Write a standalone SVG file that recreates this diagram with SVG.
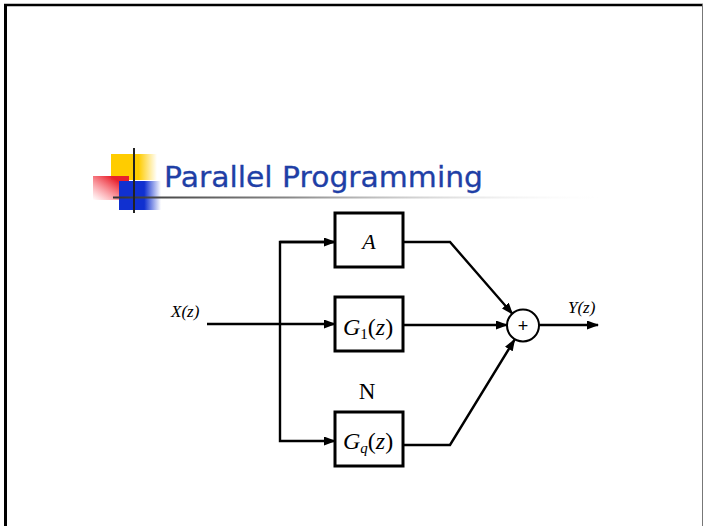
<svg xmlns="http://www.w3.org/2000/svg" width="703" height="526" viewBox="0 0 703 526">
  <defs>
    <style>
      .wire { fill: none; stroke: #000; stroke-width: 2.4; }
      .block { fill: #fff; stroke: #000; stroke-width: 3; }
      .math { font-family: "Liberation Serif", "Times New Roman", serif; fill: #000; }
      .title { font-family: "DejaVu Sans", Verdana, sans-serif; font-size: 28px; fill: #1f3fa6; stroke: #1f3fa6; stroke-width: 0.3; }
    </style>
    <marker id="arrow" viewBox="0 0 12 9" markerWidth="12" markerHeight="9" refX="11" refY="4.5" orient="auto" markerUnits="userSpaceOnUse">
      <path d="M0,0 L12,4.5 L0,9 z" fill="#000"/>
    </marker>
    <linearGradient id="yellowFade" x1="0" y1="0" x2="1" y2="0">
      <stop offset="0" stop-color="#ffcc00"/>
      <stop offset="0.6" stop-color="#ffcc00"/>
      <stop offset="1" stop-color="#ffcc00" stop-opacity="0"/>
    </linearGradient>
    <linearGradient id="redFade" x1="0" y1="1" x2="1" y2="0">
      <stop offset="0" stop-color="#ff4d5a" stop-opacity="0"/>
      <stop offset="0.75" stop-color="#e8202c"/>
      <stop offset="1" stop-color="#e8202c"/>
    </linearGradient>
    <linearGradient id="blueFade" x1="0" y1="0" x2="1" y2="0">
      <stop offset="0" stop-color="#1030d0"/>
      <stop offset="0.6" stop-color="#1030d0"/>
      <stop offset="1" stop-color="#1030d0" stop-opacity="0"/>
    </linearGradient>
    <linearGradient id="ruleFade" x1="0" y1="0" x2="1" y2="0">
      <stop offset="0" stop-color="#333"/>
      <stop offset="0.35" stop-color="#888"/>
      <stop offset="1" stop-color="#fff" stop-opacity="0"/>
    </linearGradient>
  </defs>

  <rect width="703" height="526" fill="#fff"/>

  <!-- slide frame -->
  <g id="frame">
    <line x1="4" y1="5" x2="703" y2="5" stroke="#000" stroke-width="2.5"/>
    <line x1="5.5" y1="4" x2="5.5" y2="526" stroke="#000" stroke-width="3"/>
    <line x1="702.5" y1="4" x2="702.5" y2="526" stroke="#777" stroke-width="1"/>
  </g>

  <!-- title bullet ornament and heading -->
  <g id="heading">
    <rect x="111" y="154" width="46" height="26" fill="url(#yellowFade)"/>
    <rect x="93" y="176" width="36" height="24" fill="url(#redFade)"/>
    <rect x="119" y="181" width="42" height="29" fill="url(#blueFade)"/>
    <rect x="113" y="196.5" width="502" height="2" fill="url(#ruleFade)"/>
    <line x1="134" y1="148" x2="134" y2="213" stroke="#222" stroke-width="2"/>
    <text class="title" x="164" y="187" textLength="319" lengthAdjust="spacingAndGlyphs">Parallel Programming</text>
  </g>

  <!-- connectors -->
  <g id="connectors">
    <line class="wire" x1="207" y1="324" x2="335" y2="324" marker-end="url(#arrow)"/>
    <polyline class="wire" points="335,242 280,242 280,441 335,441" marker-end="url(#arrow)"/>
    <line class="wire" x1="280" y1="242" x2="335" y2="242" marker-end="url(#arrow)"/>
    <polyline class="wire" points="403,242 450,242 512.5,313.9" marker-end="url(#arrow)"/>
    <line class="wire" x1="403" y1="325" x2="507" y2="325" marker-end="url(#arrow)"/>
    <polyline class="wire" points="403,445 450,445 514.6,339.6" marker-end="url(#arrow)"/>
    <line class="wire" x1="539" y1="325" x2="598" y2="325" marker-end="url(#arrow)"/>
  </g>

  <g id="input-label">
    <text class="math" x="171" y="317" font-size="17" font-style="italic">X(z)</text>
  </g>

  <g id="block-A">
    <rect class="block" x="335" y="213" width="68" height="54"/>
    <text class="math" x="369" y="249" font-size="22" font-style="italic" text-anchor="middle">A</text>
  </g>

  <g id="block-G1">
    <rect class="block" x="335" y="297" width="68" height="54"/>
    <text class="math" x="343" y="335" font-size="24"><tspan font-style="italic">G</tspan><tspan font-size="15" dy="4">1</tspan><tspan dy="-4">(</tspan><tspan font-style="italic">z</tspan><tspan>)</tspan></text>
  </g>

  <g id="ellipsis">
    <text class="math" x="367" y="399" font-size="23" text-anchor="middle">N</text>
  </g>

  <g id="block-Gq">
    <rect class="block" x="335" y="412" width="68" height="54"/>
    <text class="math" x="343" y="449" font-size="24"><tspan font-style="italic">G</tspan><tspan font-size="15" font-style="italic" dy="4">q</tspan><tspan dy="-4">(</tspan><tspan font-style="italic">z</tspan><tspan>)</tspan></text>
  </g>

  <g id="summer">
    <circle cx="523" cy="325.5" r="16" fill="#fff" stroke="#000" stroke-width="2"/>
    <text x="523" y="332" font-family="Liberation Sans, Arial, sans-serif" font-size="18" text-anchor="middle" fill="#000">+</text>
  </g>

  <g id="output-label">
    <text class="math" x="568" y="313" font-size="17" font-style="italic">Y(z)</text>
  </g>
</svg>
